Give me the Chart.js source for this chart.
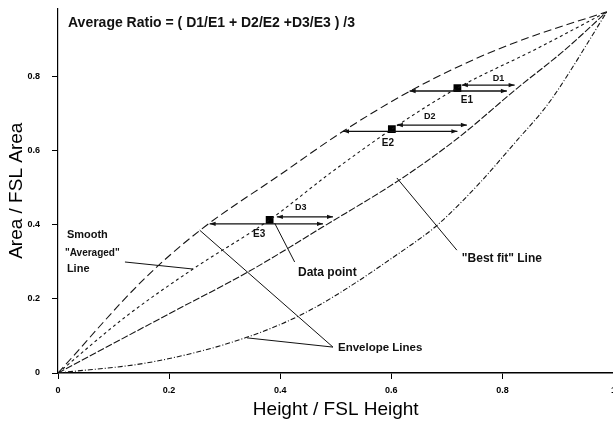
<!DOCTYPE html>
<html>
<head>
<meta charset="utf-8">
<script src="https://cdn.jsdelivr.net/npm/chart.js@4.4.0/dist/chart.umd.min.js"></script>
<style>
  html, body { margin: 0; padding: 0; background: #fff; overflow: hidden; }
  #wrap { width: 619px; height: 423px; }
</style>
</head>
<body>
<div id="wrap"><canvas id="ratioChart" width="619" height="423"></canvas></div>
<script>
// curves (x = height / FSL height, y = area / FSL area)
const upperX = [0, 0.153, 0.256, 0.40, 0.514, 0.634, 0.75, 0.85, 0.988];
const upperY = [0, 0.251, 0.386, 0.536, 0.654, 0.762, 0.848, 0.908, 0.976];

const smoothX = [0, 0.12, 0.243, 0.381, 0.49, 0.601, 0.719, 0.86, 0.988];
const smoothY = [0, 0.15, 0.281, 0.414, 0.54, 0.659, 0.770, 0.875, 0.976];

const bestX = [0, 0.2, 0.342, 0.477, 0.62, 0.72, 0.827, 0.91, 0.988];
const bestY = [0, 0.16, 0.273, 0.395, 0.527, 0.635, 0.77, 0.87, 0.976];

const lowerX = [0, 0.17, 0.337, 0.454, 0.622, 0.683, 0.76, 0.827, 0.874, 0.9, 0.988];
const lowerY = [0, 0.03, 0.095, 0.17, 0.332, 0.40, 0.515, 0.63, 0.711, 0.765, 0.976];

// the three data points (E1, E2, E3)
const pointX = [0.719, 0.601, 0.381];
const pointY = [0.770, 0.659, 0.414];

const xTicks = [0, 0.2, 0.4, 0.6, 0.8, 1];
const yTicks = [0, 0.2, 0.4, 0.6, 0.8];

// horizontal double arrows: [y, xFrom, xTo]
const arrows = [
  [0.762, 0.633, 0.808], // E1
  [0.778, 0.727, 0.822], // D1
  [0.653, 0.513, 0.719], // E2
  [0.670, 0.610, 0.736], // D2
  [0.403, 0.273, 0.477], // E3
  [0.422, 0.394, 0.495]  // D3
];

// leader lines: [x1, y1, x2, y2]
const leaders = [
  [0.1205, 0.300, 0.243, 0.281],
  [0.426, 0.300, 0.39, 0.405],
  [0.718, 0.332, 0.61, 0.527],
  [0.495, 0.070, 0.255, 0.386],
  [0.495, 0.070, 0.34, 0.095]
];

const FONT = 'Arial, "Liberation Sans", sans-serif';

const notes = [
  { text: 'Average Ratio = ( D1/E1 + D2/E2 +D3/E3 ) /3', x: 0.018, y: 0.946, size: 14, align: 'left' },
  { text: 'Smooth', x: 0.016, y: 0.373, size: 11, align: 'left' },
  { text: '"Averaged"', x: 0.0126, y: 0.324, size: 10, align: 'left' },
  { text: 'Line', x: 0.016, y: 0.281, size: 11, align: 'left' },
  { text: 'Data point', x: 0.432, y: 0.270, size: 12, align: 'left' },
  { text: '"Best fit" Line', x: 0.727, y: 0.308, size: 12, align: 'left' },
  { text: 'Envelope Lines', x: 0.504, y: 0.068, size: 11.5, align: 'left' },
  { text: 'D1', x: 0.793, y: 0.795, size: 9, align: 'center' },
  { text: 'E1', x: 0.736, y: 0.738, size: 10, align: 'center' },
  { text: 'D2', x: 0.669, y: 0.692, size: 9, align: 'center' },
  { text: 'E2', x: 0.594, y: 0.622, size: 10, align: 'center' },
  { text: 'D3', x: 0.437, y: 0.446, size: 9, align: 'center' },
  { text: 'E3', x: 0.362, y: 0.376, size: 10, align: 'center' }
];

function pairs(xs, ys) {
  return xs.map((v, i) => ({ x: v, y: ys[i] }));
}

function curve(xs, ys, dash) {
  return {
    data: pairs(xs, ys),
    showLine: true,
    borderColor: '#151515',
    borderWidth: 1.1,
    borderDash: dash,
    pointRadius: 0,
    cubicInterpolationMode: 'monotone',
    fill: false
  };
}

// draws the arrows, leader lines and texts in data units
const notePlugin = {
  id: 'notes',
  afterDatasetsDraw(chart) {
    const { ctx, scales: { x, y } } = chart;
    const px = v => x.getPixelForValue(v);
    const py = v => y.getPixelForValue(v);
    ctx.save();
    ctx.strokeStyle = '#111';
    ctx.fillStyle = '#111';
    ctx.lineWidth = 1;
    ctx.setLineDash([]);

    leaders.forEach(l => {
      ctx.beginPath();
      ctx.moveTo(px(l[0]), py(l[1]));
      ctx.lineTo(px(l[2]), py(l[3]));
      ctx.stroke();
    });

    const head = (tipX, tipY, dir) => {
      ctx.beginPath();
      ctx.moveTo(tipX, tipY);
      ctx.lineTo(tipX - dir * 6, tipY - 2.2);
      ctx.lineTo(tipX - dir * 6, tipY + 2.2);
      ctx.closePath();
      ctx.fill();
    };
    arrows.forEach(a => {
      const yy = py(a[0]), x1 = px(a[1]), x2 = px(a[2]);
      ctx.lineWidth = 1.3;
      ctx.beginPath();
      ctx.moveTo(x1, yy);
      ctx.lineTo(x2, yy);
      ctx.stroke();
      head(x1, yy, -1);
      head(x2, yy, 1);
    });

    ctx.textBaseline = 'middle';
    notes.forEach(n => {
      ctx.font = 'bold ' + n.size + 'px ' + FONT;
      ctx.textAlign = n.align;
      ctx.fillText(n.text, px(n.x), py(n.y));
    });
    ctx.restore();
  }
};

const ctx = document.getElementById('ratioChart').getContext('2d');

new Chart(ctx, {
  type: 'scatter',
  data: {
    datasets: [
      curve(upperX, upperY, [8, 4]),
      curve(smoothX, smoothY, [3, 3]),
      curve(bestX, bestY, [7, 2]),
      curve(lowerX, lowerY, [5, 2, 1, 2]),
      {
        data: pairs(pointX, pointY),
        pointStyle: 'rect',
        pointRadius: 5.5,
        backgroundColor: '#000',
        borderColor: '#000',
        borderWidth: 0
      }
    ]
  },
  options: {
    responsive: false,
    animation: false,
    layout: { padding: { top: 8.5, right: 0, left: 0, bottom: 0 } },
    plugins: {
      legend: { display: false },
      tooltip: { enabled: false }
    },
    scales: {
      x: {
        type: 'linear',
        min: 0,
        max: 1,
        afterBuildTicks: s => { s.ticks = xTicks.map(v => ({ value: v })); },
        afterFit: s => { s.height = 50; s.paddingLeft = 0; s.paddingRight = 0; },
        grid: { drawOnChartArea: false, drawTicks: true, tickLength: 6, color: '#000', lineWidth: 1 },
        border: { display: true, color: '#000', width: 1.5 },
        ticks: {
          color: '#000',
          padding: 6,
          font: { family: FONT, size: 9, weight: 'bold' },
          callback: v => String(v)
        },
        title: {
          display: true,
          text: 'Height / FSL Height',
          color: '#000',
          font: { family: FONT, size: 19 },
          padding: { top: 0, bottom: 2 }
        }
      },
      y: {
        type: 'linear',
        min: 0,
        max: 0.985,
        afterBuildTicks: s => { s.ticks = yTicks.map(v => ({ value: v })); },
        afterFit: s => { s.width = 58; s.paddingTop = 0; s.paddingBottom = 0; },
        grid: { drawOnChartArea: false, drawTicks: true, tickLength: 6, color: '#000', lineWidth: 1 },
        border: { display: true, color: '#000', width: 1.2 },
        ticks: {
          color: '#000',
          padding: 12,
          font: { family: FONT, size: 9, weight: 'bold' },
          callback: v => String(v)
        },
        title: {
          display: true,
          text: 'Area / FSL Area',
          color: '#000',
          font: { family: FONT, size: 19 },
          padding: { top: 5, bottom: 0 }
        }
      }
    }
  },
  plugins: [notePlugin]
});
</script>
</body>
</html>
